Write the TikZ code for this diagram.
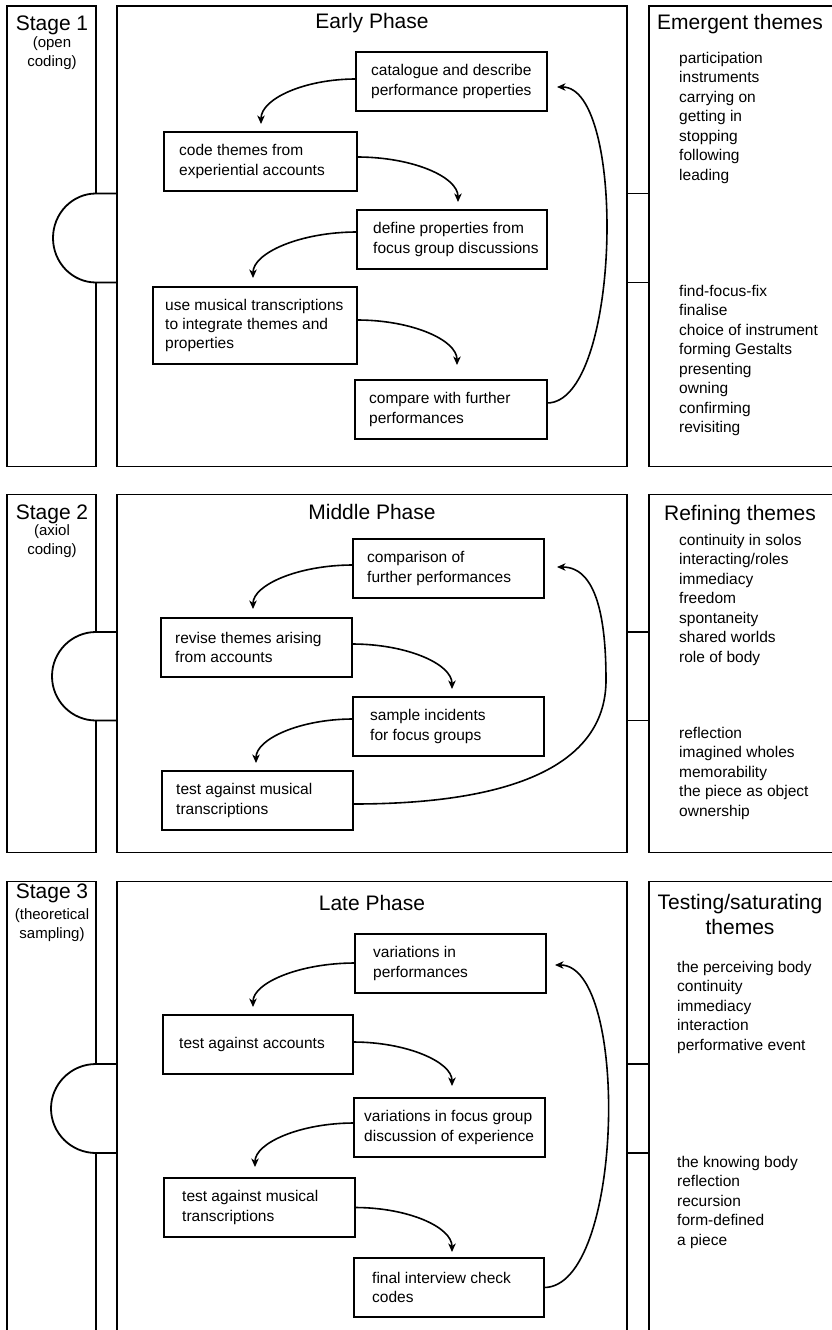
\documentclass[tikz,border=0pt]{standalone}
\usepackage{fontspec}
\setmainfont{Liberation Sans}
\usetikzlibrary{arrows.meta}
\tikzset{
  panel/.style={draw, line width=1.8pt, inner sep=0pt},
  ibox/.style={draw, line width=1.7pt, inner sep=0pt, outer sep=0pt, minimum height=59pt},
  btxt/.style={anchor=west, align=left, inner sep=0pt, font=\fontsize{15.5}{19.4}\selectfont},
  ltxt/.style={anchor=north west, align=left, inner sep=0pt, font=\fontsize{15.5}{19.5}\selectfont},
  ttl/.style={inner sep=0pt, align=center, font=\fontsize{21}{25}\selectfont},
  subt/.style={inner sep=0pt, align=center, font=\fontsize{15}{19}\selectfont},
  arr/.style={line width=1.6pt, -{Stealth[length=8.5pt,width=7.5pt,inset=2.5pt]}},
  conn/.style={line width=1.8pt},
}
\begin{document}
\begin{tikzpicture}[x=1pt,y=-1pt]
\useasboundingbox (0,0) rectangle (832,1330);
\clip (0,0) rectangle (832,1330);

% ================= STAGE 1 =================
\node[panel, minimum width=89pt, minimum height=460.5pt] (s1l) at (51.5,236.25) {};
\fill[white] (97.8,193.5) -- (96,193.5) .. controls (72.3,193.5) and (53,213.4) .. (53,238) .. controls (53,262.6) and (72.3,282.5) .. (96,282.5) -- (97.8,282.5) -- cycle;
\node[panel, minimum width=510pt, minimum height=460.5pt] (s1m) at (372,236.25) {};
\node[panel, minimum width=185pt, minimum height=460.5pt] (s1r) at (741.5,236.25) {};
\draw[conn] (s1m.west |- 0,193.5) -- (96,193.5) .. controls (72.3,193.5) and (53,213.4) .. (53,238) .. controls (53,262.6) and (72.3,282.5) .. (96,282.5) -- (s1m.west |- 0,282.5);
\draw[conn] (s1m.east |- 0,193.5) -- (s1r.west |- 0,193.5);
\draw[conn] (s1m.east |- 0,282.5) -- (s1r.west |- 0,282.5);

\node[ttl] (s1lt) at (52,25) {Stage 1};
\node[subt] (s1ls) at (52,53) {(open\\coding)};
\node[ttl] (s1mt) at (372,23) {Early Phase};
\node[ttl] (s1rt) at (740,24) {Emergent themes};
\node[ltxt] (s1r1) at (679,52) {participation\\instruments\\carrying on\\getting in\\stopping\\following\\leading};
\node[ltxt] (s1r2) at (679,285) {find-focus-fix\\finalise\\choice of instrument\\forming Gestalts\\presenting\\owning\\confirming\\revisiting};

\node[ibox, minimum width=191pt] (a1) at (451.5,81.5) {};
\node[btxt] (a1t) at ([xshift=15pt]a1.west) {catalogue and describe\\performance properties};
\node[ibox, minimum width=193pt] (b1) at (260.5,161.5) {};
\node[btxt] (b1t) at ([xshift=15pt]b1.west) {code themes from\\experiential accounts};
\node[ibox, minimum width=190pt] (c1) at (452,239.5) {};
\node[btxt] (c1t) at ([xshift=16pt]c1.west) {define properties from\\focus group discussions};
\node[ibox, minimum width=204pt, minimum height=77pt] (d1) at (255,325.5) {};
\node[btxt] (d1t) at ([xshift=12pt]d1.west) {use musical transcriptions\\to integrate themes and\\properties};
\node[ibox, minimum width=192pt] (e1) at (451,409.5) {};
\node[btxt] (e1t) at ([xshift=14pt]e1.west) {compare with further\\performances};

\draw[arr] ([yshift=2.5pt]a1.west) .. controls +(-52,0) and +(0,-25) .. ([xshift=0.5pt,yshift=8pt]b1.north);
\draw[arr] ([yshift=4.5pt]b1.east) .. controls +(56,0) and +(0,-25) .. ([xshift=6pt,yshift=8pt]c1.north);
\draw[arr] ([yshift=7.5pt]c1.west) .. controls +(-57,0) and +(0,-25) .. ([xshift=-2pt,yshift=9pt]d1.north);
\draw[arr] ([yshift=5.5pt]d1.east) .. controls +(55,0) and +(0,-25) .. ([xshift=6pt,yshift=15pt]e1.north);
\draw[arr] ([yshift=6.5pt]e1.east) .. controls +(74,0) and +(70,0) .. ([xshift=10pt,yshift=-5.5pt]a1.east);

% ================= STAGE 2 =================
\node[panel, minimum width=89pt, minimum height=358pt] (s2l) at (51.5,673.5) {};
\fill[white] (97.8,632) -- (96,632) .. controls (71.7,632) and (52,651.8) .. (52,676.25) .. controls (52,700.7) and (71.7,720.5) .. (96,720.5) -- (97.8,720.5) -- cycle;
\node[panel, minimum width=510pt, minimum height=358pt] (s2m) at (372,673.5) {};
\node[panel, minimum width=185pt, minimum height=358pt] (s2r) at (741.5,673.5) {};
\draw[conn] (s2m.west |- 0,632) -- (96,632) .. controls (71.7,632) and (52,651.8) .. (52,676.25) .. controls (52,700.7) and (71.7,720.5) .. (96,720.5) -- (s2m.west |- 0,720.5);
\draw[conn] (s2m.east |- 0,632) -- (s2r.west |- 0,632);
\draw[conn] (s2m.east |- 0,720.5) -- (s2r.west |- 0,720.5);

\node[ttl] (s2lt) at (52,514) {Stage 2};
\node[subt] (s2ls) at (52,541) {(axiol\\coding)};
\node[ttl] (s2mt) at (372,512) {Middle Phase};
\node[ttl] (s2rt) at (740,515) {Refining themes};
\node[ltxt] (s2r1) at (679,534) {continuity in solos\\interacting/roles\\immediacy\\freedom\\spontaneity\\shared worlds\\role of body};
\node[ltxt] (s2r2) at (679,727) {reflection\\imagined wholes\\memorability\\the piece as object\\ownership};

\node[ibox, minimum width=191pt] (a2) at (448.5,568.5) {};
\node[btxt] (a2t) at ([xshift=14pt]a2.west) {comparison of\\further performances};
\node[ibox, minimum width=191pt] (b2) at (256.5,647.5) {};
\node[btxt] (b2t) at ([xshift=14pt]b2.west) {revise themes arising\\from accounts};
\node[ibox, minimum width=191pt] (c2) at (448.5,726.5) {};
\node[btxt] (c2t) at ([xshift=17pt]c2.west) {sample incidents\\for focus groups};
\node[ibox, minimum width=191pt] (d2) at (257.5,800.5) {};
\node[btxt] (d2t) at ([xshift=14pt]d2.west) {test against musical\\transcriptions};

\coordinate (m2) at (606,680);
\draw[arr] ([yshift=3.5pt]a2.west) .. controls +(-55,0) and +(0,-24) .. ([xshift=-3.5pt,yshift=9pt]b2.north);
\draw[arr] ([yshift=3.5pt]b2.east) .. controls +(55,0) and +(0,-25) .. ([xshift=3.5pt,yshift=8pt]c2.north);
\draw[arr] ([yshift=7.5pt]c2.west) .. controls +(-53,0) and +(0,-24) .. ([xshift=-1.5pt,yshift=8pt]d2.north);
\draw[arr] ([yshift=-3.5pt]d2.east) .. controls +(170,0) and +(0,80) .. (m2) .. controls +(0,-60) and +(40,0) .. ([xshift=13pt,yshift=1.5pt]a2.east);

% ================= STAGE 3 =================
\node[panel, minimum width=89pt, minimum height=463.5pt] (s3l) at (51.5,1113.25) {};
\fill[white] (97.8,1064) -- (96,1064) .. controls (71.1,1064) and (51,1084.1) .. (51,1108.5) .. controls (51,1132.9) and (71.1,1153) .. (96,1153) -- (97.8,1153) -- cycle;
\node[panel, minimum width=510pt, minimum height=463.5pt] (s3m) at (372,1113.25) {};
\node[panel, minimum width=185pt, minimum height=463.5pt] (s3r) at (741.5,1113.25) {};
\draw[conn] (s3m.west |- 0,1064) -- (96,1064) .. controls (71.1,1064) and (51,1084.1) .. (51,1108.5) .. controls (51,1132.9) and (71.1,1153) .. (96,1153) -- (s3m.west |- 0,1153);
\draw[conn] (s3m.east |- 0,1064) -- (s3r.west |- 0,1064);
\draw[conn] (s3m.east |- 0,1153) -- (s3r.west |- 0,1153);

\node[ttl] (s3lt) at (52,893) {Stage 3};
\node[subt] (s3ls) at (52,925) {(theoretical\\sampling)};
\node[ttl] (s3mt) at (372,902.5) {Late Phase};
\node[ttl] (s3rt) at (740,914) {Testing/saturating\\themes};
\node[ltxt] (s3r1) at (677,961) {the perceiving body\\continuity\\immediacy\\interaction\\performative event};
\node[ltxt] (s3r2) at (677,1156) {the knowing body\\reflection\\recursion\\form-defined\\a piece};

\node[ibox, minimum width=191pt] (a3) at (450.5,963.5) {};
\node[btxt] (a3t) at ([xshift=18pt]a3.west) {variations in\\performances};
\node[ibox, minimum width=190pt] (b3) at (258,1044.5) {};
\node[btxt] (b3t) at ([xshift=16pt]b3.west) {test against accounts};
\node[ibox, minimum width=191pt] (c3) at (449.5,1127.5) {};
\node[btxt] (c3t) at ([xshift=10pt]c3.west) {variations in focus group\\discussion of experience};
\node[ibox, minimum width=191pt] (d3) at (259.5,1207.5) {};
\node[btxt] (d3t) at ([xshift=18pt]d3.west) {test against musical\\transcriptions};
\node[ibox, minimum width=190pt] (e3) at (449,1287.5) {};
\node[btxt] (e3t) at ([xshift=18pt]e3.west) {final interview check\\codes};

\draw[arr] ([yshift=0.5pt]a3.west) .. controls +(-56,0) and +(0,-24) .. ([xshift=-5pt,yshift=8pt]b3.north);
\draw[arr] ([yshift=2.5pt]b3.east) .. controls +(54,0) and +(0,-24) .. ([xshift=2.5pt,yshift=12pt]c3.north);
\draw[arr] ([yshift=4.5pt]c3.west) .. controls +(-54,0) and +(0,-24) .. ([xshift=-4.5pt,yshift=11pt]d3.north);
\draw[arr] (d3.east) .. controls +(53,0) and +(0,-25) .. ([xshift=3pt,yshift=6pt]e3.north);
\draw[arr] (e3.east) .. controls +(80,0) and +(75,0) .. ([xshift=9pt,yshift=-1.5pt]a3.east);

\end{tikzpicture}
\end{document}
